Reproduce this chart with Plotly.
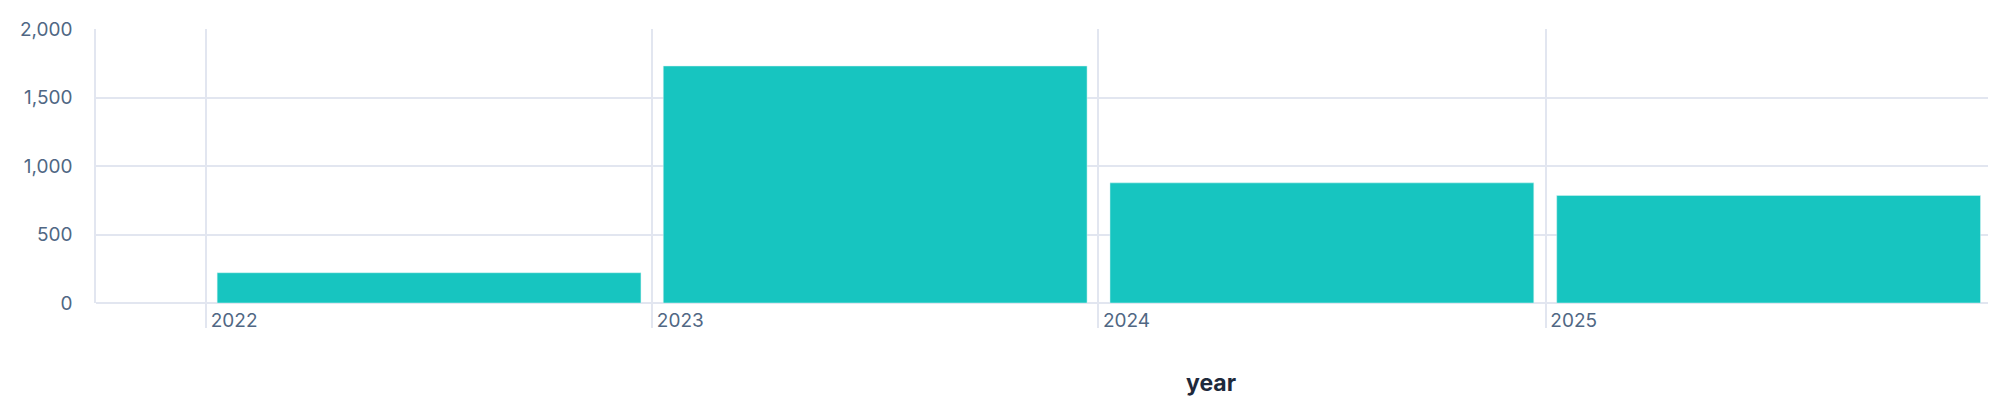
import plotly.graph_objects as go

# yearly totals
years = ["2022-01-01", "2023-01-01", "2024-01-01", "2025-01-01"]
counts = [221, 1730, 877, 785]

y_ticks = [0, 500, 1000, 1500, 2000]

GRID = "#E2E6F0"
TICK_TXT = "#506784"
BAR = "#17C5C0"

fig = go.Figure(
    go.Bar(
        x=years,
        y=counts,
        xperiod="M12",
        xperiodalignment="middle",
        marker=dict(color=BAR, line=dict(color="#D9F4F3", width=0.5)),
        hovertemplate="%{x|%Y}: %{y:,}<extra></extra>",
    )
)

fig.update_layout(
    width=1980,
    height=400,
    margin=dict(l=88, r=0, t=21, b=105),
    plot_bgcolor="white",
    paper_bgcolor="white",
    bargap=0.05,
    showlegend=False,
    font=dict(family="Inter, Noto Sans, sans-serif", size=19, color=TICK_TXT),
    # axis title sits off-centre in the original (plot area runs past the page edge)
    annotations=[
        dict(
            text="<b>year</b>",
            xref="paper", yref="paper",
            x=0.5895, y=0, yshift=-80,
            xanchor="center", yanchor="middle",
            showarrow=False,
            font=dict(size=23, color="#1E293B"),
        )
    ],
)

fig.update_xaxes(
    type="date",
    range=["2021-10-03", "2025-12-29"],
    dtick="M12",
    tickformat="%Y",
    showgrid=True,
    gridcolor=GRID,
    gridwidth=1.5,
    ticks="outside",
    ticklen=24,
    tickwidth=1.5,
    tickcolor=GRID,
    ticklabelposition="outside right",
    ticklabelshift=4,
    zeroline=False,
    showline=False,
)

fig.update_yaxes(
    range=[0, 2000],
    tickvals=y_ticks,
    tickformat=",",
    showgrid=True,
    gridcolor=GRID,
    gridwidth=1.5,
    zeroline=True,
    zerolinecolor=GRID,
    zerolinewidth=1.5,
    showline=True,
    linecolor=GRID,
    linewidth=1.5,
    ticks="",
    ticklabelstandoff=18,
)

fig.write_html("out.html")
